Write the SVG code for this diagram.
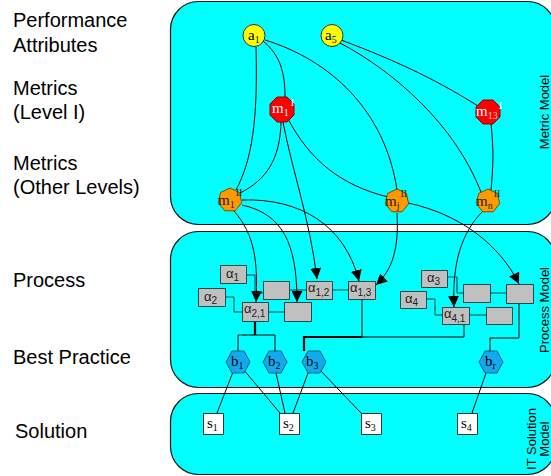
<svg xmlns="http://www.w3.org/2000/svg" width="551" height="476" viewBox="0 0 551 476">
<defs>
<style>
.panel{fill:#00ffff;stroke:#111;stroke-width:1.2}
.lbl{font-family:"Liberation Sans",Arial,sans-serif;font-size:20px;fill:#000}
.vl{font-family:"Liberation Sans",Arial,sans-serif;font-size:13px;fill:#000}
.ser{font-family:"Liberation Serif","Times New Roman",serif;font-size:15px}
.sans{font-family:"Liberation Sans",Arial,sans-serif;font-size:13px;fill:#222}
.sub{font-size:10px}
.c{fill:none;stroke:#000;stroke-width:1}
.p{fill:none;stroke:#063c3c;stroke-width:1}
.thick{fill:none;stroke:#000;stroke-width:2.2}
.box{fill:#c0c0c0;stroke:#244a4a;stroke-width:1}
.sbox{fill:#fff;stroke:#333;stroke-width:1}
.att{fill:#ffff00;stroke:#333;stroke-width:1}
.m1{fill:#ff0000;stroke:#800;stroke-width:1}
.m2{fill:#ff9900;stroke:#7a4a00;stroke-width:1}
.bp{fill:#12aaee;stroke:#065a80;stroke-width:1}
</style>
<marker id="arr" viewBox="0 0 10 10" refX="10" refY="5" markerWidth="11" markerHeight="11" markerUnits="userSpaceOnUse" orient="auto">
<path d="M0,0 L10,5 L0,10 z" fill="#000"/>
</marker>
</defs>

<g id="panels">
<rect class="panel" x="170.5" y="1.5" width="385" height="223" rx="28"/>
<rect class="panel" x="170.5" y="231.5" width="385" height="156" rx="28"/>
<rect class="panel" x="170.5" y="393.5" width="385" height="81" rx="28"/>
</g>

<g id="side-labels">
<text class="lbl" x="13" y="27">Performance</text>
<text class="lbl" x="13" y="52">Attributes</text>
<text class="lbl" x="13" y="95">Metrics</text>
<text class="lbl" x="13" y="119">(Level I)</text>
<text class="lbl" x="13" y="170">Metrics</text>
<text class="lbl" x="13" y="194">(Other Levels)</text>
<text class="lbl" x="13" y="287">Process</text>
<text class="lbl" x="13" y="364">Best Practice</text>
<text class="lbl" x="15" y="438">Solution</text>
<text class="vl" transform="translate(549,112) rotate(-90)" text-anchor="middle">Metric Model</text>
<text class="vl" transform="translate(549,310) rotate(-90)" text-anchor="middle">Process Model</text>
<text class="vl" transform="translate(536,439) rotate(-90)" text-anchor="middle">IT Solution</text>
<text class="vl" transform="translate(549,439) rotate(-90)" text-anchor="middle">Model</text>
</g>

<g id="connectors">
<path class="c" d="M256,47 C258,120 252,160 236,190"/>
<path class="c" d="M263,41 C280,55 285,72 285,97"/>
<path class="c" d="M265,40 C330,60 385,110 397,190"/>
<path class="c" d="M341,40 C400,62 440,82 478,106"/>
<path class="c" d="M340,43 C395,72 455,125 481,192"/>
<path class="c" d="M281,122 C280,160 266,180 240,193"/>
<path class="c" d="M288,119 C310,160 340,185 388,197"/>
<path class="c" d="M491,124 C494,150 493,170 491,190"/>
<path class="c" d="M283,122 C292,170 310,220 317,279" marker-end="url(#arr)"/>
<path class="c" d="M234,211 C255,235 258,262 256,302" marker-end="url(#arr)"/>
<path class="c" d="M242,205 C282,214 297,242 297,302" marker-end="url(#arr)"/>
<path class="c" d="M242,200 C300,198 345,225 359,281" marker-end="url(#arr)"/>
<path class="c" d="M397,213 C399,250 392,270 376,285" marker-end="url(#arr)"/>
<path class="c" d="M408,203 C460,214 500,245 519,284" marker-end="url(#arr)"/>
<path class="c" d="M483,211 C462,232 452,262 454,307" marker-end="url(#arr)"/>
<path class="p" d="M246,275 H255 V293 H263"/>
<path class="p" d="M225,297 H234 V312 H242"/>
<path class="p" d="M268,312 H284"/>
<path class="p" d="M289,290 H306"/>
<path class="p" d="M332,290 H348"/>
<path class="p" d="M447,277 H457 V293 H463"/>
<path class="p" d="M426,299 H435 V315 H442"/>
<path class="p" d="M469,315 H486"/>
<path class="p" d="M490,293 H506"/>
<path class="thick" d="M255,321 V335"/>
<path class="c" d="M238,351 V335 H275 V351"/>
<path class="c" d="M362,299 V337"/>
<path class="thick" d="M304,351 V337 H362"/>
<path class="c" d="M362,337 H464 V324"/>
<path class="c" d="M519,303 V338 H490 V351"/>
<path class="c" d="M233,372 L217,413"/>
<path class="c" d="M243,369 L280,413"/>
<path class="c" d="M276,373 L285,413"/>
<path class="c" d="M308,373 L293,413"/>
<path class="c" d="M319,369 L361,413"/>
<path class="c" d="M486,373 L472,413"/>
</g>

<g id="a1"><circle class="att" cx="254" cy="35.5" r="11"/><text class="ser" x="248" y="40">a<tspan class="sub" dy="3">1</tspan></text></g>
<g id="a5"><circle class="att" cx="332" cy="35.5" r="11"/><text class="ser" x="325" y="40">a<tspan class="sub" dy="3">5</tspan></text></g>

<g id="m1I"><polygon class="m1" points="287,97 294,104 294,115 287,122 277,122 270,115 270,104 277,97"/><text class="ser" x="272" y="113" fill="#fff">m<tspan class="sub" dy="3">1</tspan><tspan class="sub" dx="2" dy="-10">I</tspan></text></g>
<g id="m13I"><polygon class="m1" points="493,100 500,107 500,117 493,124 483,124 476,117 476,107 483,100"/><text class="ser" x="476" y="116" fill="#fff">m<tspan class="sub" dy="3" fill="#ffd0d0">13</tspan><tspan class="sub" dx="1" dy="-10">I</tspan></text></g>

<g id="m1II"><polygon class="m2" points="230,188 239.4,192.5 241.7,202.7 235.2,210.8 224.8,210.8 218.3,202.7 220.6,192.5"/><text class="ser" x="218" y="205" fill="#222">m<tspan class="sub" dy="3">1</tspan><tspan class="sub" dx="1" dy="-12">II</tspan></text></g>
<g id="mjII"><polygon class="m2" points="397,189 406.4,193.5 408.7,203.7 402.2,211.8 391.8,211.8 385.3,203.7 387.6,193.5"/><text class="ser" x="385" y="206" fill="#222">m<tspan class="sub" dy="3">j</tspan><tspan class="sub" dx="1" dy="-12">II</tspan></text></g>
<g id="mnII"><polygon class="m2" points="488,189 497.4,193.5 499.7,203.7 493.2,211.8 482.8,211.8 476.3,203.7 478.6,193.5"/><text class="ser" x="476" y="206" fill="#222">m<tspan class="sub" dy="3">n</tspan><tspan class="sub" dx="1" dy="-12">II</tspan></text></g>

<g id="alpha1"><rect class="box" x="220.5" y="265.5" width="26" height="18"/><text class="sans" x="226" y="278">α<tspan class="sub" dy="3">1</tspan></text></g>
<g id="alpha2"><rect class="box" x="198.5" y="288.5" width="27" height="18"/><text class="sans" x="204" y="301">α<tspan class="sub" dy="3">2</tspan></text></g>
<g id="boxA"><rect class="box" x="263.5" y="281.5" width="26" height="18"/></g>
<g id="alpha21"><rect class="box" x="242.5" y="302.5" width="26" height="19"/><text class="sans" x="244" y="313">α<tspan class="sub" dy="4">2,1</tspan></text></g>
<g id="boxB"><rect class="box" x="284.5" y="302.5" width="27" height="19"/></g>
<g id="alpha12"><rect class="box" x="306.5" y="281.5" width="26" height="18"/><text class="sans" x="308" y="292">α<tspan class="sub" dy="4">1,2</tspan></text></g>
<g id="alpha13"><rect class="box" x="348.5" y="281.5" width="27" height="18"/><text class="sans" x="350" y="292">α<tspan class="sub" dy="4">1,3</tspan></text></g>
<g id="alpha3"><rect class="box" x="421.5" y="270.5" width="26" height="17"/><text class="sans" x="427" y="282">α<tspan class="sub" dy="3">3</tspan></text></g>
<g id="alpha4"><rect class="box" x="400.5" y="291.5" width="26" height="17"/><text class="sans" x="405" y="303">α<tspan class="sub" dy="3">4</tspan></text></g>
<g id="boxC"><rect class="box" x="463.5" y="284.5" width="27" height="18"/></g>
<g id="boxD"><rect class="box" x="506.5" y="284.5" width="27" height="19"/></g>
<g id="alpha41"><rect class="box" x="442.5" y="307.5" width="27" height="17"/><text class="sans" x="444" y="318">α<tspan class="sub" dy="4">4,1</tspan></text></g>
<g id="boxE"><rect class="box" x="486.5" y="307.5" width="26" height="17"/></g>

<g id="b1"><polygon class="bp" points="226,362 232,351 244,351 250,362 244,373 232,373"/><text class="ser" x="231" y="366">b<tspan class="sub" dy="3">1</tspan></text></g>
<g id="b2"><polygon class="bp" points="263,362 269,351 281,351 287,362 281,373 269,373"/><text class="ser" x="268" y="366">b<tspan class="sub" dy="3">2</tspan></text></g>
<g id="b3"><polygon class="bp" points="302,362 308,351 320,351 326,362 320,373 308,373"/><text class="ser" x="306" y="366">b<tspan class="sub" dy="3">3</tspan></text></g>
<g id="br"><polygon class="bp" points="479,362 485,351 497,351 503,362 497,373 485,373"/><text class="ser" x="485" y="366">b<tspan class="sub" dy="3">r</tspan></text></g>

<g id="s1"><rect class="sbox" x="203.5" y="413.5" width="20" height="21"/><text class="ser" x="207" y="428">s<tspan class="sub" dy="3">1</tspan></text></g>
<g id="s2"><rect class="sbox" x="279.5" y="413.5" width="20" height="21"/><text class="ser" x="283" y="428">s<tspan class="sub" dy="3">2</tspan></text></g>
<g id="s3"><rect class="sbox" x="361.5" y="413.5" width="20" height="21"/><text class="ser" x="365" y="428">s<tspan class="sub" dy="3">3</tspan></text></g>
<g id="s4"><rect class="sbox" x="457.5" y="413.5" width="20" height="21"/><text class="ser" x="461" y="428">s<tspan class="sub" dy="3">4</tspan></text></g>
</svg>
